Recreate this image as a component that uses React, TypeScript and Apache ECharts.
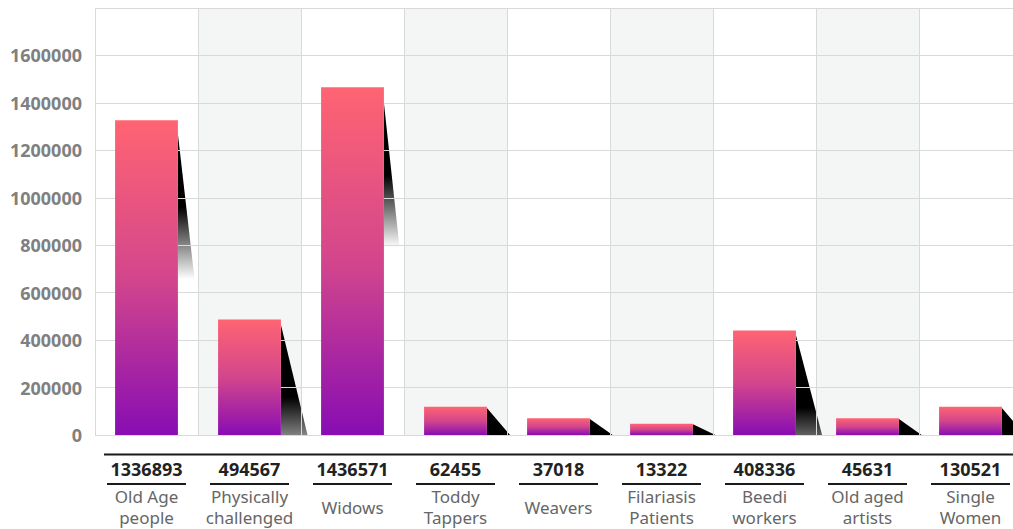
import React, { useEffect, useRef } from "react";
import * as echarts from "echarts";

const categoryNames = [
  "Old Age\npeople",
  "Physically\nchallenged",
  "Widows",
  "Toddy\nTappers",
  "Weavers",
  "Filariasis\nPatients",
  "Beedi\nworkers",
  "Old aged\nartists",
  "Single\nWomen",
];
const valueLabels = [1336893, 494567, 1436571, 62455, 37018, 13322, 408336, 45631, 130521];
// bar heights as drawn in the picture
const barValues = [1327000, 487000, 1466000, 119000, 71000, 47000, 441000, 71000, 119000];
const yMax = 1800000;
const yStep = 200000;

const FONT = '"Noto Sans", sans-serif';

export default function App() {
  const ref = useRef<HTMLDivElement>(null);
  useEffect(() => {
    if (!ref.current) return;
    const chart = echarts.init(ref.current, null, { renderer: "svg" });
    const barPct = 0.61;
    chart.setOption({
      animation: false,
      grid: { left: 95, right: 8, top: 8, bottom: 94, containLabel: false, outerBoundsMode: "none" },
      xAxis: [
        {
          type: "category",
          data: categoryNames,
          z: 0,
          axisLine: { show: false },
          axisTick: { show: false },
          splitLine: { show: false },
          splitArea: { show: true, areaStyle: { color: ["rgba(0,0,0,0)", "#f4f5f5"] } },
          axisLabel: {
            interval: 0,
            margin: 21,
            fontFamily: FONT,
            formatter: (val: string, i: number) => {
              const single = val.indexOf("\n") < 0;
              return `{v|${valueLabels[i]}}\n{hr| }\n{${single ? "n1" : "n"}|${val}}`;
            },
            rich: {
              v: { fontSize: 18, fontWeight: "bold", color: "#222", lineHeight: 26, fontFamily: FONT },
              hr: { width: 79, height: 2, lineHeight: 4, fontSize: 1, backgroundColor: "#1a1a1a" },
              n: { fontSize: 17, color: "#666", lineHeight: 21, fontFamily: FONT },
              n1: { fontSize: 17, color: "#666", lineHeight: 42, fontFamily: FONT },
            },
          },
        },
        {
          type: "category",
          data: categoryNames,
          position: "top",
          z: 2,
          axisLine: { show: false },
          axisTick: { show: false },
          axisLabel: { show: false },
          splitLine: { show: true, lineStyle: { color: "#d9d9d9", width: 1 } },
        },
      ],
      yAxis: {
        type: "value",
        min: 0,
        max: yMax,
        interval: yStep,
        z: 2,
        axisLine: { show: false },
        axisTick: { show: false },
        splitLine: { show: true, lineStyle: { color: "#d9d9d9", width: 1 } },
        axisLabel: {
          showMaxLabel: false,
          margin: 13,
          fontSize: 18,
          fontWeight: "bold",
          color: "#808080",
          fontFamily: FONT,
          formatter: (v: number) => String(v),
        },
      },
      graphic: [
        {
          type: "line",
          shape: { x1: 104, y1: 454.5, x2: 1030, y2: 454.5 },
          style: { stroke: "#1a1a1a", lineWidth: 2 },
        },
      ],
      series: [
        {
          type: "custom",
          z: 1,
          silent: true,
          data: barValues.map((v, i) => [i, v]),
          renderItem: (params: any, api: any) => {
            const idx = api.value(0);
            const val = api.value(1);
            const top = api.coord([idx, val]);
            const base = api.coord([idx, 0]);
            const band = api.size([1, 0])[0];
            const right = top[0] + (band * barPct) / 2;
            const h = base[1] - top[1];
            const sTop = top[1] + 0.045 * h;
            const off = 22 + 0.04 * h;
            return {
              type: "polygon",
              shape: {
                points: [
                  [right, sTop],
                  [right + off, base[1]],
                  [right, base[1]],
                ],
              },
              style: {
                fill: new echarts.graphic.LinearGradient(
                  0,
                  sTop,
                  0,
                  sTop + 145,
                  [
                    { offset: 0, color: "rgba(0,0,0,1)" },
                    { offset: 0.5, color: "rgba(0,0,0,1)" },
                    { offset: 1, color: "rgba(0,0,0,0)" },
                  ],
                  true
                ),
              },
            };
          },
        },
        {
          type: "bar",
          z: 3,
          data: barValues,
          barWidth: "61%",
          itemStyle: {
            color: new echarts.graphic.LinearGradient(0, 0, 0, 1, [
              { offset: 0, color: "#ff6472" },
              { offset: 0.5, color: "#d3468c" },
              { offset: 1, color: "#880db3" },
            ]),
          },
        },
      ],
    });
    return () => chart.dispose();
  }, []);
  return (
    <div
      style={{
        position: "fixed",
        left: 0,
        top: 0,
        width: 1013,
        height: 529,
        overflow: "hidden",
        background: "#fff",
      }}
    >
      <div ref={ref} style={{ width: 1030, height: 529 }} />
    </div>
  );
}
